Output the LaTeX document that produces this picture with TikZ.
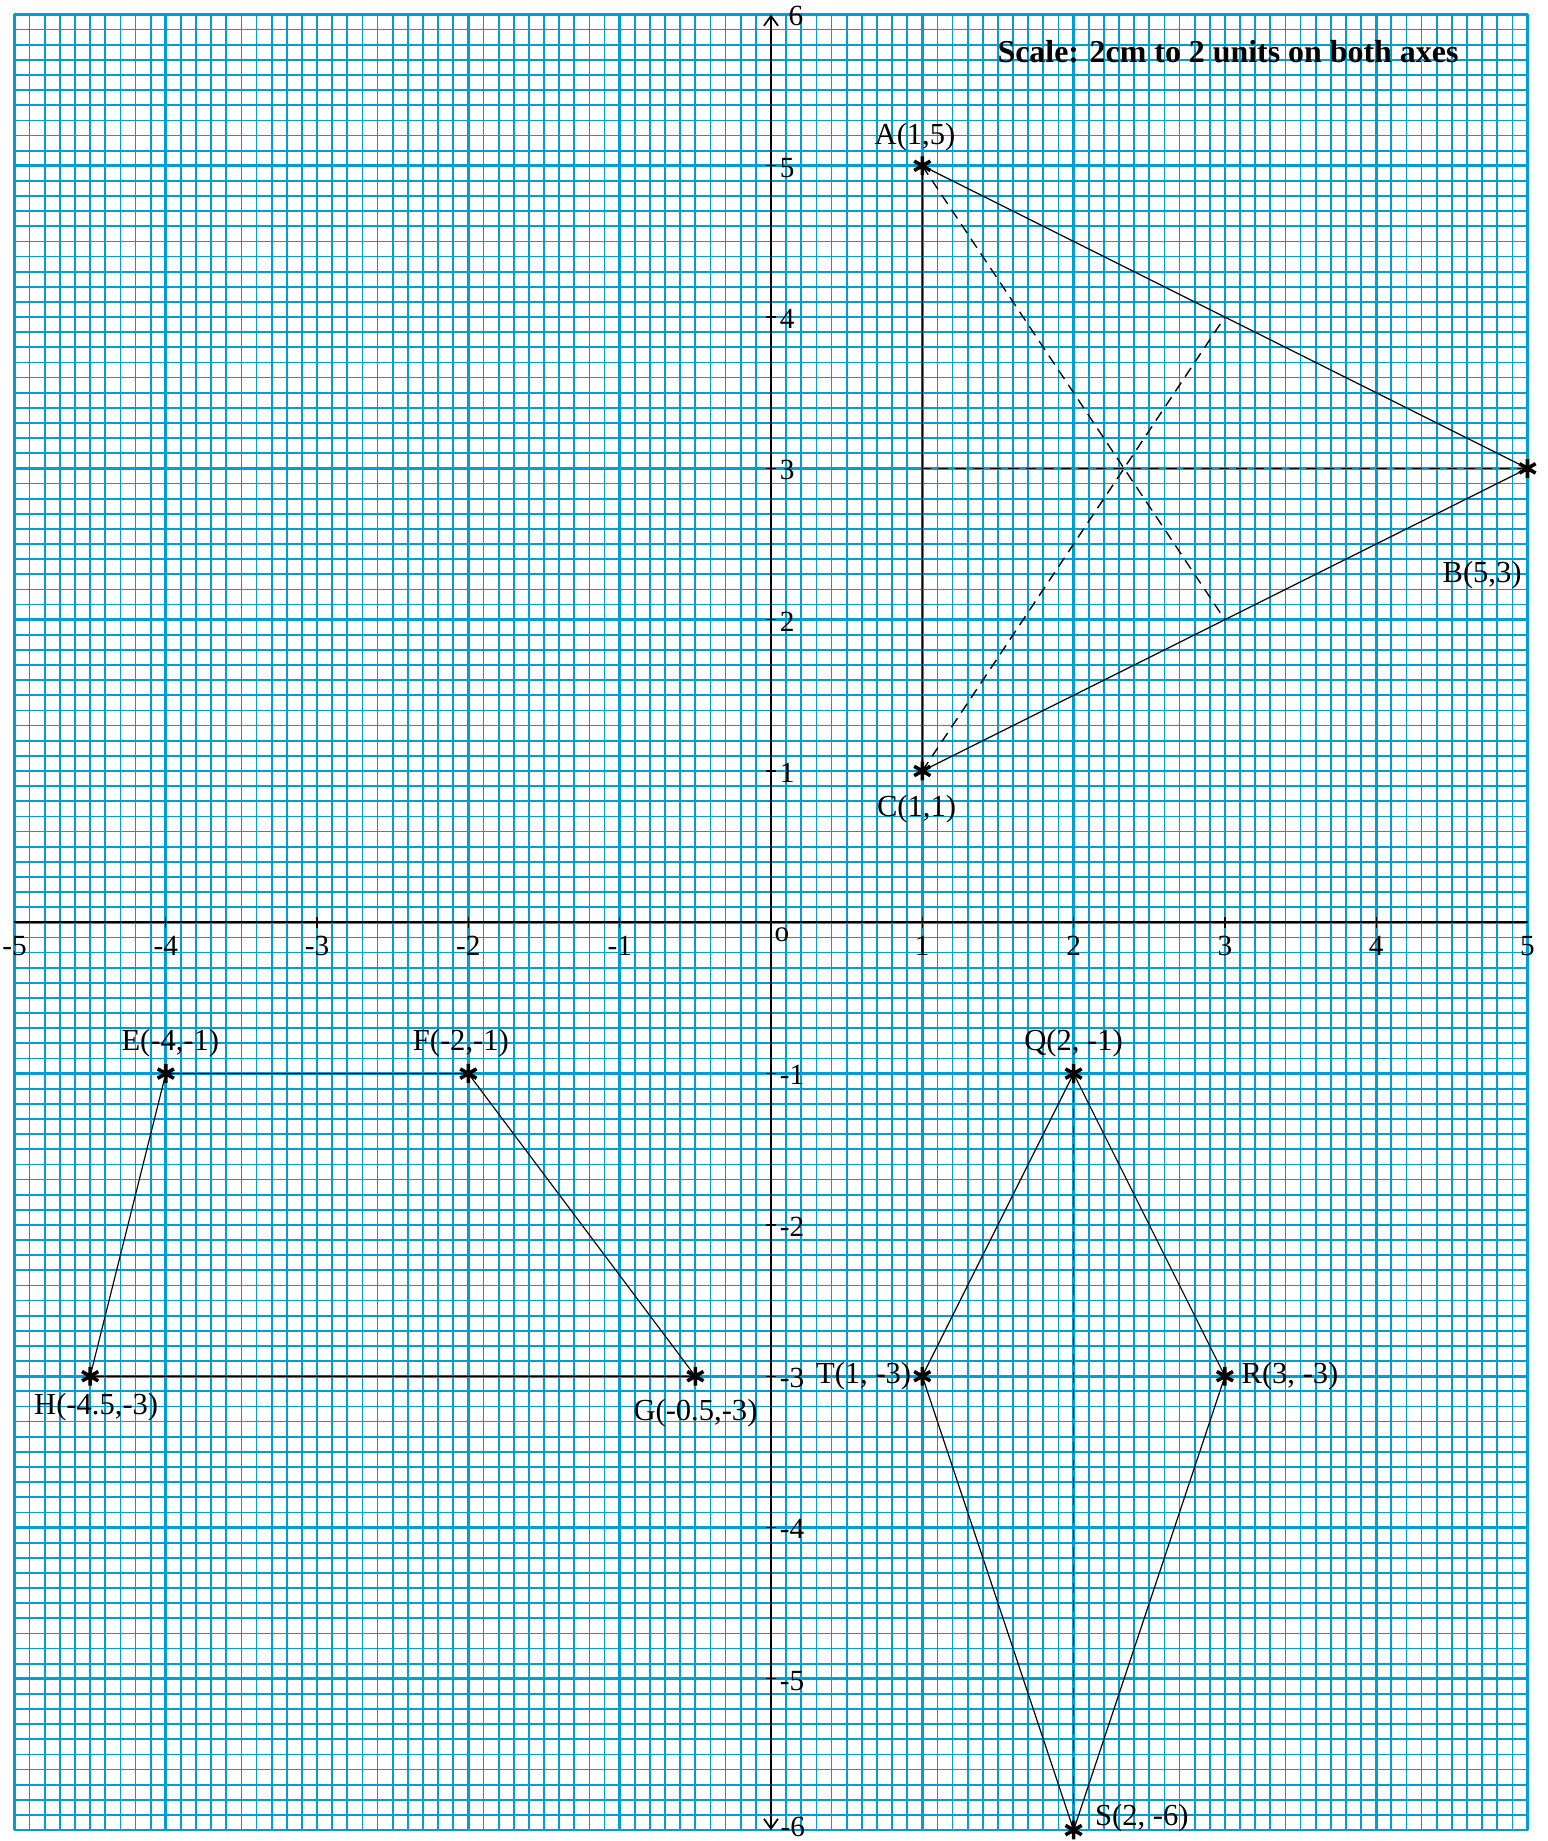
\documentclass[tikz,border=0pt]{standalone}
\usepackage{fontspec}
\setmainfont{Liberation Serif}
\usetikzlibrary{arrows.meta}
\definecolor{gridblue}{RGB}{0,158,210}
\tikzset{
  finegrid/.style={gridblue, line width=0.65pt},
  unitgrid/.style={gridblue, line width=1.0pt},
  axisline/.style={black, line width=0.65pt},
  tickline/.style={black, line width=0.45pt},
  figline/.style={black, line width=0.45pt},
  medline/.style={black, line width=0.5pt, dash pattern=on 4pt off 2.6pt},
  ptlabel/.style={font=\fontsize{11.5}{13}\selectfont, inner sep=0pt},
  axlabel/.style={font=\fontsize{11}{13}\selectfont, inner sep=0pt},
  astk/.pic={\draw[black, line width=1.35pt] (-90:0.062) -- (90:0.062) (-30:0.062) -- (150:0.062) (30:0.062) -- (210:0.062);},
  barb/.tip={Straight Barb[length=3.7pt,width=5.3pt]}
}
\begin{document}
\begin{tikzpicture}[x=2cm,y=2cm]
\useasboundingbox (-5.0958,-6.072) rectangle (5.1355,6.0959);
% graph paper
\foreach \i in {-50,...,50} \draw[finegrid] (\i/10,-6) -- (\i/10,6);
\foreach \j in {-60,...,60} \draw[finegrid] (-5,\j/10) -- (5,\j/10);
\foreach \i in {-5,...,5} \draw[unitgrid] (\i,-6) -- (\i,6);
\foreach \j in {-6,...,6} \draw[unitgrid] (-5,\j) -- (5,\j);
% axes
\coordinate (xL) at (-5,0);
\coordinate (xR) at (5,0);
\coordinate (yT) at (0,6);
\coordinate (yB) at (0,-6);
\draw[axisline] (xL) -- (xR);
\draw[axisline, barb-barb] (yB) -- (yT);
\foreach \i in {-4,-3,-2,-1,1,2,3,4} \draw[tickline] (\i,-0.035) -- (\i,0.035);
\foreach \j in {-5,-4,-3,-2,-1,1,2,3,4,5} \draw[tickline] (-0.035,\j) -- (0.035,\j);
\foreach \i [count=\k] in {-5,-4,-3,-2,-1,1,2,3,4,5}
  \node[axlabel, anchor=base] (xlab\k) at (\i,-0.222) {\i};
\node[axlabel, anchor=base] (origin) at (0.073,-0.124) {o};
\foreach \j [count=\k] in {5,4,3,2,1,-1,-2,-3,-4,-5}
  \node[axlabel, anchor=base west] (ylab\k) at (0.055,\j-0.075) {\j};
\node[axlabel, anchor=base west] (ytop) at (0.113,5.93) {6};
\node[axlabel, anchor=base west] (ybot) at (0.06,-6.045) {-6};
% title
\node[font=\bfseries\fontsize{12}{14}\selectfont, anchor=base west, inner sep=0pt] (title) at (1.494,5.681) {Scale: 2cm to 2 units on both axes};
% points
\coordinate (A) at (1,5);
\coordinate (B) at (5,3);
\coordinate (C) at (1,1);
\coordinate (MAB) at (3,4);
\coordinate (MBC) at (3,2);
\coordinate (MAC) at (1,3);
\coordinate (E) at (-4,-1);
\coordinate (F) at (-2,-1);
\coordinate (G) at (-0.5,-3);
\coordinate (H) at (-4.5,-3);
\coordinate (Q) at (2,-1);
\coordinate (R) at (3,-3);
\coordinate (S) at (2,-6);
\coordinate (T) at (1,-3);
% figures
\draw[figline] (A) -- (B) -- (C) -- cycle;
\draw[medline] (A) -- (MBC);
\draw[medline] (C) -- (MAB);
\draw[medline] (B) -- (MAC);
\draw[figline] (E) -- (F) -- (G) -- (H) -- cycle;
\draw[figline] (Q) -- (R) -- (S) -- (T) -- cycle;
\draw[medline] (Q) -- (S);
\foreach \p in {A,B,C,E,F,G,H,Q,R,S,T} \pic at (\p) {astk};
% labels
\node[ptlabel, anchor=base] (lA) at (0.952,5.142) {A(1,5)};
\node[ptlabel, anchor=base] (lB) at (4.70,2.243) {B(5,3)};
\node[ptlabel, anchor=base] (lC) at (0.962,0.697) {C(1,1)};
\node[ptlabel, anchor=base] (lE) at (-3.97,-0.848) {E(-4,-1)};
\node[ptlabel, anchor=base] (lF) at (-2.05,-0.848) {F(-2,-1)};
\node[ptlabel, anchor=base] (lQ) at (2.0,-0.848) {Q(2, -1)};
\node[ptlabel, anchor=base] (lH) at (-4.46,-3.254) {H(-4.5,-3)};
\node[ptlabel, anchor=base] (lG) at (-0.499,-3.293) {G(-0.5,-3)};
\node[ptlabel, anchor=base east] (lT) at (0.93,-3.045) {T(1, -3)};
\node[ptlabel, anchor=base west] (lR) at (3.107,-3.045) {R(3, -3)};
\node[ptlabel, anchor=base west] (lS) at (2.139,-5.97) {S(2, -6)};
\end{tikzpicture}
\end{document}
